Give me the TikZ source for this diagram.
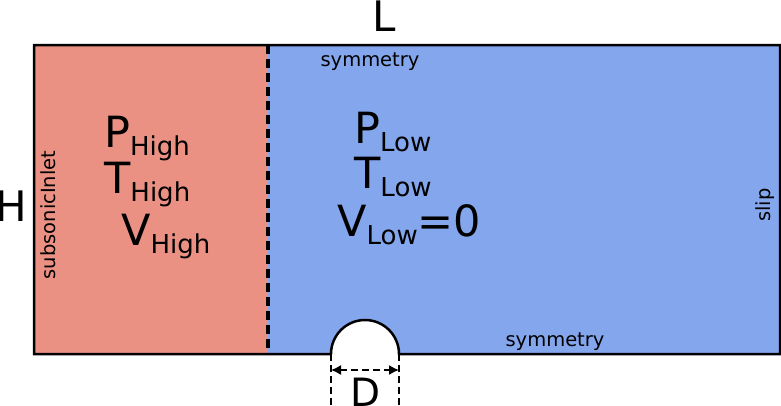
\documentclass[tikz,border=0pt]{standalone}
\usepackage{fontspec}
\setmainfont{DejaVu Sans}
\usetikzlibrary{arrows.meta}
\definecolor{redfill}{RGB}{234,145,132}
\definecolor{bluefill}{RGB}{132,166,236}
\newcommand{\bigsub}[2]{{\fontsize{43}{43}\selectfont #1}\raisebox{-8pt}{\fontsize{26}{26}\selectfont #2}}
\begin{document}
\begin{tikzpicture}[x=1pt,y=-1pt,
  border/.style={line width=2.5pt, line join=miter},
  interface/.style={line width=3.2pt, dash pattern=on 9pt off 5pt},
  dimline/.style={line width=1.4pt, dash pattern=on 7pt off 4pt},
  bc/.style={inner sep=0pt, font=\fontsize{19.5}{19.5}\selectfont},
  big/.style={inner sep=0pt, anchor=base west},
  lbl/.style={inner sep=0pt, font=\fontsize{42}{42}\selectfont}]
\useasboundingbox (0,0) rectangle (781,405);
\fill[redfill] (34,45) rectangle (268,354);
\fill[bluefill] (268,45) rectangle (780,354);
\coordinate (hl) at (331,354);
\coordinate (hr) at (399,354);
\fill[white] (hr) arc[start angle=0, end angle=-180, radius=34] -- cycle;
\draw[border] (hl) -- (34,354) -- (34,45) -- (780,45) -- (780,354) -- (hr)
  arc[start angle=0, end angle=-180, radius=34];
\coordinate (it) at (268,45);
\coordinate (ib) at (268,354);
\draw[interface] (it) -- (ib);
\coordinate (dl) at (331,405);
\coordinate (dr) at (399,405);
\draw[dimline] (hl) -- (dl);
\draw[dimline] (hr) -- (dr);
\coordinate (al) at (331,370);
\coordinate (ar) at (399,370);
\draw[dimline, {Latex[length=10pt,width=10pt]}-{Latex[length=10pt,width=10pt]}] (al) -- (ar);
\node[inner sep=0pt, anchor=base, font=\fontsize{39}{39}\selectfont] (D) at (366,406) {D};
\node[lbl, anchor=base] (L) at (384,31) {L};
\node[lbl, anchor=base] (H) at (11,221) {H};
\node[bc, anchor=base] (symtop) at (370,66) {symmetry};
\node[bc, anchor=base] (symbot) at (555,346) {symmetry};
\node[bc, rotate=90, anchor=base] (inlet) at (55,215) {subsonicInlet};
\node[bc, rotate=90, anchor=base] (slip) at (770,205) {slip};
\node[big] (ph) at (104,147) {\bigsub{P}{High}};
\node[big] (th) at (104,193) {\bigsub{T}{High}};
\node[big] (vh) at (121,245) {\bigsub{V}{High}};
\node[big] (pl) at (354,143) {\bigsub{P}{Low}};
\node[big] (tl) at (354,188) {\bigsub{T}{Low}};
\node[big] (vl) at (337,236) {\bigsub{V}{Low}{\fontsize{43}{43}\selectfont =0}};
\end{tikzpicture}
\end{document}
